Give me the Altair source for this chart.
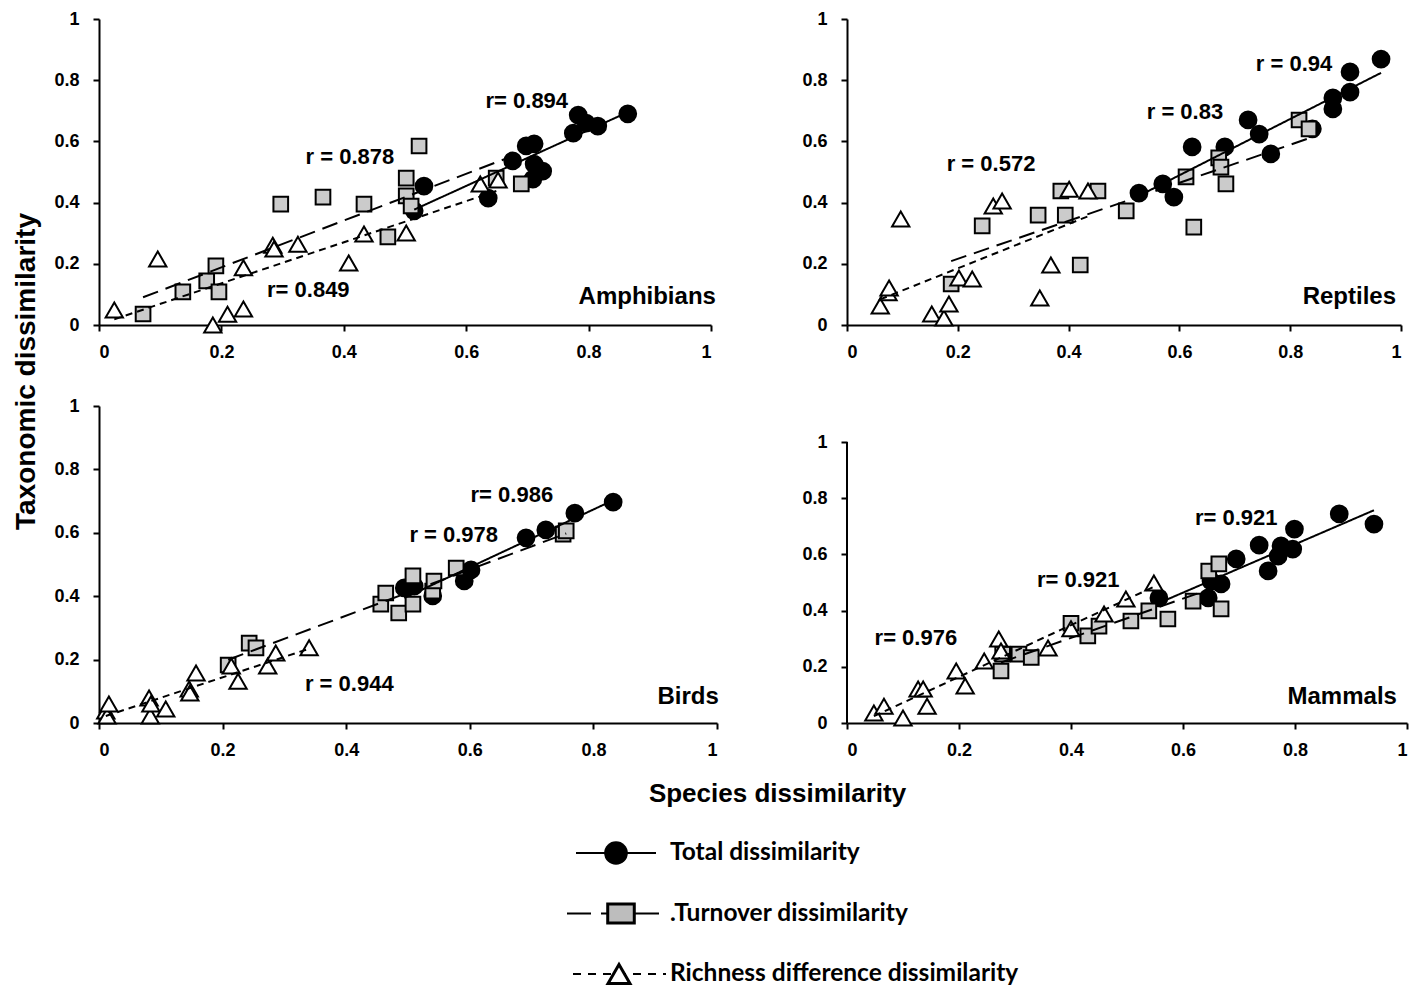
import altair as alt
import pandas as pd

# ---------------- data ----------------
TICKS = [0, 0.2, 0.4, 0.6, 0.8, 1]
SERIES = ["Total", "Turnover", "Richness"]

AMP_TOT_X = [0.531, 0.515, 0.636, 0.676, 0.698, 0.711, 0.711, 0.725, 0.709, 0.775, 0.783, 0.796, 0.815, 0.864]
AMP_TOT_Y = [0.454, 0.373, 0.415, 0.536, 0.585, 0.592, 0.526, 0.503, 0.477, 0.627, 0.686, 0.660, 0.650, 0.690]
AMP_TURN_X = [0.072, 0.137, 0.176, 0.191, 0.196, 0.297, 0.366, 0.433, 0.472, 0.502, 0.502, 0.510, 0.523, 0.649, 0.690]
AMP_TURN_Y = [0.036, 0.108, 0.144, 0.193, 0.108, 0.395, 0.418, 0.395, 0.288, 0.480, 0.422, 0.389, 0.585, 0.480, 0.461]
AMP_RICH_X = [0.025, 0.096, 0.186, 0.210, 0.236, 0.236, 0.284, 0.286, 0.325, 0.408, 0.433, 0.502, 0.623, 0.652]
AMP_RICH_Y = [0.049, 0.216, 0.000, 0.035, 0.052, 0.187, 0.261, 0.248, 0.264, 0.203, 0.297, 0.301, 0.461, 0.474]

REP_TOT_X = [0.527, 0.570, 0.590, 0.623, 0.682, 0.724, 0.744, 0.765, 0.840, 0.877, 0.877, 0.908, 0.908, 0.964]
REP_TOT_Y = [0.431, 0.461, 0.418, 0.582, 0.582, 0.670, 0.624, 0.559, 0.641, 0.742, 0.706, 0.761, 0.827, 0.869]
REP_TURN_X = [0.188, 0.244, 0.345, 0.386, 0.394, 0.421, 0.453, 0.504, 0.612, 0.626, 0.671, 0.675, 0.684, 0.816, 0.834]
REP_TURN_Y = [0.134, 0.324, 0.359, 0.438, 0.359, 0.196, 0.438, 0.373, 0.484, 0.320, 0.546, 0.516, 0.461, 0.670, 0.641]
REP_RICH_X = [0.060, 0.074, 0.076, 0.097, 0.153, 0.175, 0.184, 0.202, 0.226, 0.264, 0.280, 0.348, 0.368, 0.401, 0.435]
REP_RICH_Y = [0.062, 0.105, 0.121, 0.346, 0.036, 0.023, 0.069, 0.154, 0.150, 0.389, 0.405, 0.088, 0.196, 0.444, 0.438]

BRD_TOT_X = [0.494, 0.510, 0.540, 0.591, 0.602, 0.691, 0.723, 0.770, 0.832]
BRD_TOT_Y = [0.426, 0.432, 0.401, 0.448, 0.483, 0.584, 0.609, 0.662, 0.697]
BRD_TURN_X = [0.209, 0.243, 0.254, 0.456, 0.464, 0.485, 0.508, 0.508, 0.540, 0.542, 0.578, 0.751, 0.756]
BRD_TURN_Y = [0.183, 0.252, 0.237, 0.375, 0.410, 0.347, 0.464, 0.375, 0.416, 0.448, 0.489, 0.596, 0.606]
BRD_RICH_X = [0.011, 0.013, 0.016, 0.081, 0.083, 0.084, 0.108, 0.146, 0.147, 0.157, 0.214, 0.225, 0.273, 0.286, 0.340]
BRD_RICH_Y = [0.038, 0.022, 0.060, 0.079, 0.022, 0.060, 0.044, 0.107, 0.095, 0.158, 0.180, 0.132, 0.180, 0.221, 0.237]

MAM_TOT_X = [0.557, 0.645, 0.650, 0.668, 0.695, 0.736, 0.752, 0.770, 0.775, 0.796, 0.799, 0.879, 0.941]
MAM_TOT_Y = [0.445, 0.445, 0.505, 0.495, 0.584, 0.633, 0.541, 0.594, 0.630, 0.619, 0.690, 0.744, 0.708]
MAM_TURN_X = [0.275, 0.278, 0.307, 0.329, 0.400, 0.430, 0.450, 0.507, 0.539, 0.573, 0.618, 0.646, 0.664, 0.668]
MAM_TURN_Y = [0.185, 0.245, 0.245, 0.233, 0.355, 0.310, 0.345, 0.363, 0.399, 0.370, 0.434, 0.541, 0.566, 0.406]
MAM_RICH_X = [0.048, 0.066, 0.100, 0.127, 0.136, 0.143, 0.195, 0.211, 0.245, 0.271, 0.275, 0.359, 0.400, 0.459, 0.498, 0.548]
MAM_RICH_Y = [0.036, 0.060, 0.018, 0.121, 0.121, 0.060, 0.185, 0.132, 0.221, 0.299, 0.256, 0.267, 0.335, 0.388, 0.441, 0.498]

# r annotations: label text and anchor in data units
AMP_R_TEXT = ["r= 0.894", "r = 0.878", "r= 0.849"]
AMP_R_X = [0.699, 0.410, 0.342]
AMP_R_Y = [0.732, 0.549, 0.114]
REP_R_TEXT = ["r = 0.94", "r = 0.83", "r = 0.572"]
REP_R_X = [0.807, 0.610, 0.260]
REP_R_Y = [0.853, 0.696, 0.526]
BRD_R_TEXT = ["r= 0.986", "r = 0.978", "r = 0.944"]
BRD_R_X = [0.668, 0.574, 0.405]
BRD_R_Y = [0.719, 0.593, 0.123]
MAM_R_TEXT = ["r= 0.921", "r= 0.921", "r= 0.976"]
MAM_R_X = [0.695, 0.413, 0.123]
MAM_R_Y = [0.730, 0.509, 0.302]

PANEL_NAMES = ["Amphibians", "Reptiles", "Birds", "Mammals"]
LEG_LABELS = ["Total dissimilarity", ".Turnover dissimilarity", "Richness difference dissimilarity"]

FONT = "Liberation Sans"
RECT = "M-1.4,-1L1.4,-1L1.4,1L-1.4,1Z"


def panel_df(tx, ty, ox, oy, rx, ry):
    parts = []
    for s, xs, ys in zip(SERIES, [tx, ox, rx], [ty, oy, ry]):
        parts.append(pd.DataFrame({"x": xs, "y": ys, "series": s}))
    return pd.concat(parts, ignore_index=True)


def make_panel(df, rtext, rx, ry, name, name_x, name_y, w, h, ymax=1.0,
               xaxis_kw=None, yaxis_kw=None, fake_y_domain=False):
    xaxis_kw = xaxis_kw or {}
    yaxis_kw = yaxis_kw or {}
    xs = alt.Scale(domain=[0, 1], nice=False, zero=False)
    ys = alt.Scale(domain=[0, ymax], nice=False, zero=False)
    xa = alt.Axis(values=TICKS, format="~g", **({"title": None} | xaxis_kw))
    ya = alt.Axis(values=TICKS, format="~g", domain=not fake_y_domain,
                  **({"title": None} | yaxis_kw))
    X = alt.X("x:Q", scale=xs, axis=xa)
    Y = alt.Y("y:Q", scale=ys, axis=ya)

    base = alt.Chart(df)
    circles = base.transform_filter(alt.datum.series == "Total").mark_point(
        shape="circle", filled=True, fill="black", stroke="black", size=280, opacity=1
    ).encode(x=X, y=Y)
    squares = base.transform_filter(alt.datum.series == "Turnover").mark_point(
        shape="square", filled=True, fill="#cbcbcb", stroke="black", strokeWidth=2,
        size=215, opacity=1
    ).encode(x=X, y=Y)
    tris = base.transform_filter(alt.datum.series == "Richness").mark_point(
        shape="triangle-up", filled=True, fill="white", stroke="black", strokeWidth=2,
        size=300, opacity=1
    ).encode(x=X, y=Y)
    lines = base.transform_regression("x", "y", groupby=["series"]).mark_line(
        color="black", strokeWidth=2
    ).encode(
        x=X, y=Y,
        strokeDash=alt.StrokeDash("series:N", scale=alt.Scale(domain=SERIES, range=[[1, 0], [16, 8], [7, 5]]), legend=None),
        detail="series:N",
    )
    ann = pd.DataFrame({"x": rx, "y": ry, "t": rtext})
    rlab = alt.Chart(ann).mark_text(
        font=FONT, fontWeight="bold", fontSize=22, align="center", baseline="middle", color="black"
    ).encode(x=X, y=Y, text="t:N")
    nm = pd.DataFrame({"x": [name_x], "y": [name_y], "t": [name]})
    nlab = alt.Chart(nm).mark_text(
        font=FONT, fontWeight="bold", fontSize=24, align="right", baseline="middle", color="black"
    ).encode(x=X, y=Y, text="t:N")
    layers = [circles, squares, tris, lines, rlab, nlab]
    if fake_y_domain:
        dom = pd.DataFrame({"x": [0], "y": [0], "y2": [1]})
        layers.append(alt.Chart(dom).mark_rule(color="black", strokeWidth=2).encode(
            x=X, y=Y, y2="y2:Q"))
    return alt.layer(*layers).properties(width=w, height=h)


tl = make_panel(panel_df(AMP_TOT_X, AMP_TOT_Y, AMP_TURN_X, AMP_TURN_Y, AMP_RICH_X, AMP_RICH_Y),
                AMP_R_TEXT, AMP_R_X, AMP_R_Y, PANEL_NAMES[0], 1.008, 0.092, 612, 306,
                yaxis_kw=dict(title="Taxonomic dissimilarity", titleX=-73, titleY=352,
                              titleAngle=270, titleAlign="center", titleBaseline="middle",
                              titleFontSize=28))
tr = make_panel(panel_df(REP_TOT_X, REP_TOT_Y, REP_TURN_X, REP_TURN_Y, REP_RICH_X, REP_RICH_Y),
                REP_R_TEXT, REP_R_X, REP_R_Y, PANEL_NAMES[1], 0.991, 0.092, 554, 306)
bl = make_panel(panel_df(BRD_TOT_X, BRD_TOT_Y, BRD_TURN_X, BRD_TURN_Y, BRD_RICH_X, BRD_RICH_Y),
                BRD_R_TEXT, BRD_R_X, BRD_R_Y, PANEL_NAMES[2], 1.003, 0.082, 618, 317,
                xaxis_kw=dict(title="Species dissimilarity", titleX=678, titleY=70,
                              titleAlign="center", titleBaseline="middle", titleFontSize=26))
br = make_panel(panel_df(MAM_TOT_X, MAM_TOT_Y, MAM_TURN_X, MAM_TURN_Y, MAM_RICH_X, MAM_RICH_Y),
                MAM_R_TEXT, MAM_R_X, MAM_R_Y, PANEL_NAMES[3], 0.982, 0.093, 560, 317,
                ymax=317 / 281, fake_y_domain=True)

# ---------------- custom legend ----------------
leg = pd.DataFrame({"label": LEG_LABELS})
LY = alt.Y("label:N", scale=alt.Scale(type="point", domain=LEG_LABELS, range=[60, 181], padding=0), axis=None)
lb = alt.Chart(leg)
l_r1 = lb.transform_filter(alt.datum.label == LEG_LABELS[0]).mark_rule(color="black", strokeWidth=2).encode(
    x=alt.value(477), x2=alt.value(557), y=LY)
l_r2 = lb.transform_filter(alt.datum.label == LEG_LABELS[1]).mark_rule(color="black", strokeWidth=2, strokeDash=[24, 10]).encode(
    x=alt.value(468), x2=alt.value(566), y=LY)
l_r3 = lb.transform_filter(alt.datum.label == LEG_LABELS[2]).mark_rule(color="black", strokeWidth=2, strokeDash=[8, 7]).encode(
    x=alt.value(474), x2=alt.value(567), y=LY)
l_p1 = lb.transform_filter(alt.datum.label == LEG_LABELS[0]).mark_point(
    shape="circle", filled=True, fill="black", size=560, opacity=1).encode(x=alt.value(517), y=LY)
l_p2 = lb.transform_filter(alt.datum.label == LEG_LABELS[1]).mark_point(
    shape=RECT, filled=True, fill="#bdbdbd", stroke="black", strokeWidth=3, size=360, opacity=1).encode(x=alt.value(522), y=LY)
l_p3 = lb.transform_filter(alt.datum.label == LEG_LABELS[2]).mark_point(
    shape="triangle-up", filled=True, fill="white", stroke="black", strokeWidth=3, size=480, opacity=1).encode(x=alt.value(520), y=LY)
l_t = lb.mark_text(font="Lato", fontWeight="bold", fontSize=24.5, align="left", baseline="middle", color="black").encode(
    x=alt.value(571), y=LY, text="label:N")
legend = alt.layer(l_r1, l_r2, l_r3, l_p1, l_p2, l_p3, l_t).properties(width=1308, height=188)

row1 = alt.hconcat(tl, tr, spacing=136, bounds="flush")
row2 = alt.hconcat(bl, br, spacing=130, bounds="flush")

# nested concat rows count with zero height in a flush layout: spacing is row-top to row-top
chart = alt.vconcat(row1, row2, legend, spacing=387, bounds="flush").properties(
    padding={"left": 4, "top": 2, "right": 5, "bottom": 0},
    background="white",
).configure_view(strokeWidth=0).configure_axis(
    grid=False,
    domainColor="black", domainWidth=2,
    tickColor="black", tickWidth=2, tickSize=6,
    labelFont=FONT, labelFontWeight="bold", labelFontSize=18, labelColor="black",
    titleFont=FONT, titleFontWeight="bold", titleFontSize=25, titleColor="black",
).configure_axisX(labelPadding=12).configure_axisY(labelPadding=14)

chart.save("out.html", embed_options={"renderer": "svg", "actions": False})
